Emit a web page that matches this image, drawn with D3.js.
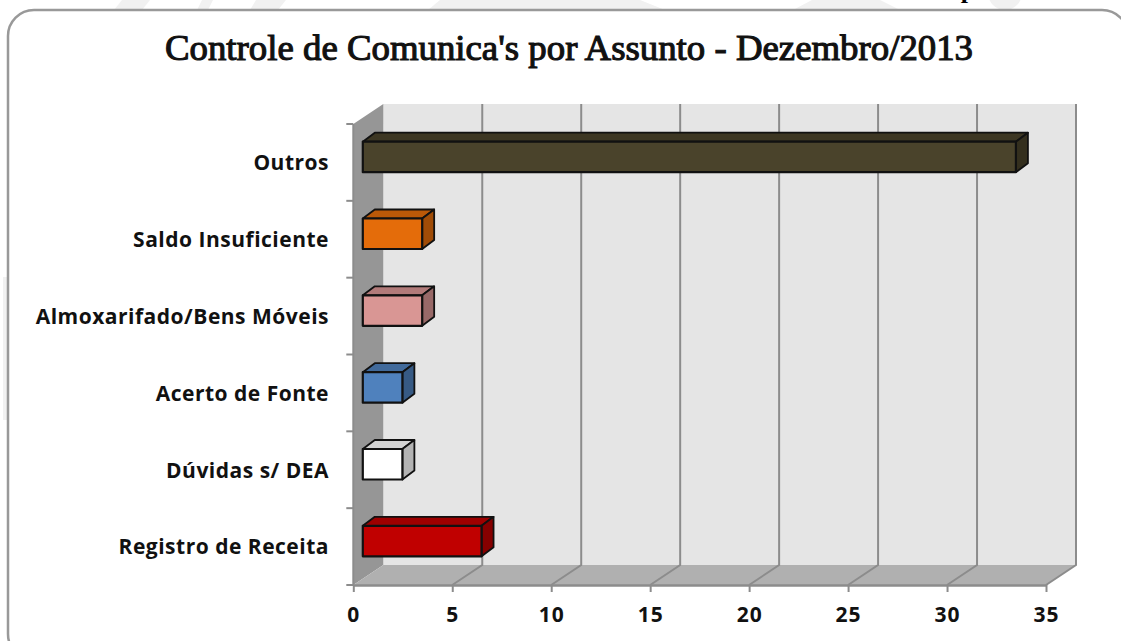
<!DOCTYPE html>
<html>
<head>
<meta charset="utf-8">
<script src="https://cdn.jsdelivr.net/npm/d3@7"></script>
<style>
html, body { margin: 0; padding: 0; background: #fff; overflow: hidden; }
svg { display: block; }
.catLabel, .valLabel { font-family: "Open Sans", sans-serif; font-weight: 700; fill: #111; }
.title { font-family: "Liberation Serif", serif; font-weight: 400; fill: #111; stroke: #111; stroke-width: 1.1px; }
</style>
</head>
<body>
<div id="chart"></div>
<script>
// categories top to bottom, as in the chart
const categories = ["Outros", "Saldo Insuficiente", "Almoxarifado/Bens Móveis", "Acerto de Fonte", "Dúvidas s/ DEA", "Registro de Receita"];
const values = [33, 3, 3, 2, 2, 6];
const barColours = ["#4a432b", "#e46c0a", "#d99694", "#4f81bd", "#ffffff", "#c00000"];
const xTicks = [0, 5, 10, 15, 20, 25, 30, 35];

const width = 1121;
const height = 641;

// front plane of the 3d box
const plot = {left: 353.3, right: 1046, top: 124, bottom: 585};
// how far the back wall is pushed
const wall = {dx: 30, dy: -20};
// bar sits a bit inside the box, and has its own depth
const barShift = {dx: 9.5, dy: -5.5};
const barDepth = {dx: 12, dy: -9};

let svg = d3.select("#chart").append("svg")
  .attr("width", width)
  .attr("height", height);

// faint watermark pieces peeking out behind the frame
const wm = svg.append("g").attr("fill", "#f1f1f1");
[[[122, 0], [150, 0], [142, 10], [114, 10]], [[202, 0], [213, 0], [208, 10], [197, 10]], [[256, 0], [286, 0], [278, 10], [250, 10]],
 [[440, 0], [640, 0], [665, 10], [428, 10]], [[812, 0], [880, 0], [900, 10], [793, 10]]].forEach(p => {
  wm.append("polygon").attr("points", p.join(" "));
});
wm.append("circle").attr("cx", 1005).attr("cy", -7).attr("r", 17);
wm.append("rect").attr("x", 3).attr("y", 277).attr("width", 4).attr("height", 143);

// rounded frame
svg.append("rect")
  .attr("x", 8).attr("y", 10)
  .attr("width", 1120).attr("height", 650)
  .attr("rx", 26).attr("ry", 26)
  .attr("fill", "#fff")
  .attr("stroke", "#999")
  .attr("stroke-width", 2.5);

// clipped bit of the page text above the frame
svg.append("text")
  .attr("x", 968).attr("y", -2)
  .style("font", "bold 26px 'Liberation Serif', serif")
  .style("fill", "#000")
  .attr("text-anchor", "middle")
  .text("p");

svg.append("text")
  .attr("class", "title")
  .attr("x", 569).attr("y", 60)
  .attr("text-anchor", "middle")
  .attr("textLength", 808)
  .attr("lengthAdjust", "spacingAndGlyphs")
  .style("font-size", "36px")
  .text("Controle de Comunica's por Assunto - Dezembro/2013");

let x = d3.scaleLinear()
  .domain([0, 35])
  .range([plot.left, plot.right]);

let y = d3.scaleBand()
  .domain(categories)
  .range([plot.top, plot.bottom]);

const barH = 30.5;

// box walls
function quad(pts, fill, stroke, sw) {
  return svg.append("polygon")
    .attr("points", pts.map(p => p.join(",")).join(" "))
    .attr("fill", fill)
    .attr("stroke", stroke || "none")
    .attr("stroke-width", sw || 0)
    .attr("stroke-linejoin", "round");
}

// back wall
quad([[plot.left + wall.dx, plot.top + wall.dy], [plot.right + wall.dx, plot.top + wall.dy],
      [plot.right + wall.dx, plot.bottom + wall.dy], [plot.left + wall.dx, plot.bottom + wall.dy]], "#e5e5e5");
// left wall
quad([[plot.left, plot.top], [plot.left + wall.dx, plot.top + wall.dy],
      [plot.left + wall.dx, plot.bottom + wall.dy], [plot.left, plot.bottom]], "#969696");
// floor
quad([[plot.left, plot.bottom], [plot.left + wall.dx, plot.bottom + wall.dy],
      [plot.right + wall.dx, plot.bottom + wall.dy], [plot.right, plot.bottom]], "#b0b0b0");

// gridlines run along the floor then up the back wall
svg.selectAll("path.grid")
  .data(xTicks.slice(1))
  .enter()
  .append("path")
  .attr("class", "grid")
  .attr("fill", "none")
  .attr("stroke", "#8c8c8c")
  .attr("stroke-width", 2)
  .attr("d", d => `M${x(d)},${plot.bottom}L${x(d) + wall.dx},${plot.bottom + wall.dy}V${plot.top + wall.dy}`);

// axes
let xAxis = d3.axisBottom(x).tickValues(xTicks).tickSize(7).tickPadding(15).tickSizeOuter(0);
let gx = svg.append("g")
  .attr("transform", `translate(0, ${plot.bottom})`)
  .call(xAxis);
gx.select(".domain").attr("stroke", "#8c8c8c").attr("stroke-width", 2.5);
gx.selectAll(".tick line").attr("stroke", "#8c8c8c").attr("stroke-width", 2);
gx.selectAll(".tick text")
  .attr("class", "valLabel")
  .style("font-size", "21px")
  .style("letter-spacing", "1px");

// y axis has its ticks between the categories
let gy = svg.append("g");
gy.append("line")
  .attr("x1", plot.left).attr("x2", plot.left)
  .attr("y1", plot.top).attr("y2", plot.bottom)
  .attr("stroke", "#8c8c8c").attr("stroke-width", 2);
gy.selectAll("line.tick")
  .data(categories)
  .enter()
  .append("line")
  .attr("class", "tick")
  .attr("x1", plot.left - 7).attr("x2", plot.left)
  .attr("y1", d => y(d)).attr("y2", d => y(d))
  .attr("stroke", "#8c8c8c").attr("stroke-width", 2);
gy.append("line")
  .attr("x1", plot.left - 7).attr("x2", plot.left)
  .attr("y1", plot.bottom).attr("y2", plot.bottom)
  .attr("stroke", "#8c8c8c").attr("stroke-width", 2);

gy.selectAll("text")
  .data(categories)
  .enter()
  .append("text")
  .attr("class", "catLabel")
  .attr("x", 329)
  .attr("y", d => y(d) + y.bandwidth() / 2 + 0.5)
  .attr("dy", "0.35em")
  .attr("text-anchor", "end")
  .style("font-size", "21px")
  .style("letter-spacing", "0.5px")
  .text(d => d);

// 3d bars
const frontX = x(0) + barShift.dx;
const barW = v => x(v) - x(0);
const barTop = c => y(c) + y.bandwidth() / 2 - barH / 2 + barShift.dy;

categories.forEach((c, i) => {
  let base = d3.color(barColours[i]);
  let l = frontX, r = frontX + barW(values[i]);
  let t = barTop(c), b = t + barH;
  let edge = "#111";
  // top face
  quad([[l, t], [l + barDepth.dx, t + barDepth.dy], [r + barDepth.dx, t + barDepth.dy], [r, t]],
    base.darker(0.55).formatHex(), edge, 1.8);
  // side face
  quad([[r, t], [r + barDepth.dx, t + barDepth.dy], [r + barDepth.dx, b + barDepth.dy], [r, b]],
    base.darker(1).formatHex(), edge, 1.8);
  // front face
  quad([[l, t], [r, t], [r, b], [l, b]], base.formatHex(), edge, 2.2);
});
</script>
</body>
</html>
